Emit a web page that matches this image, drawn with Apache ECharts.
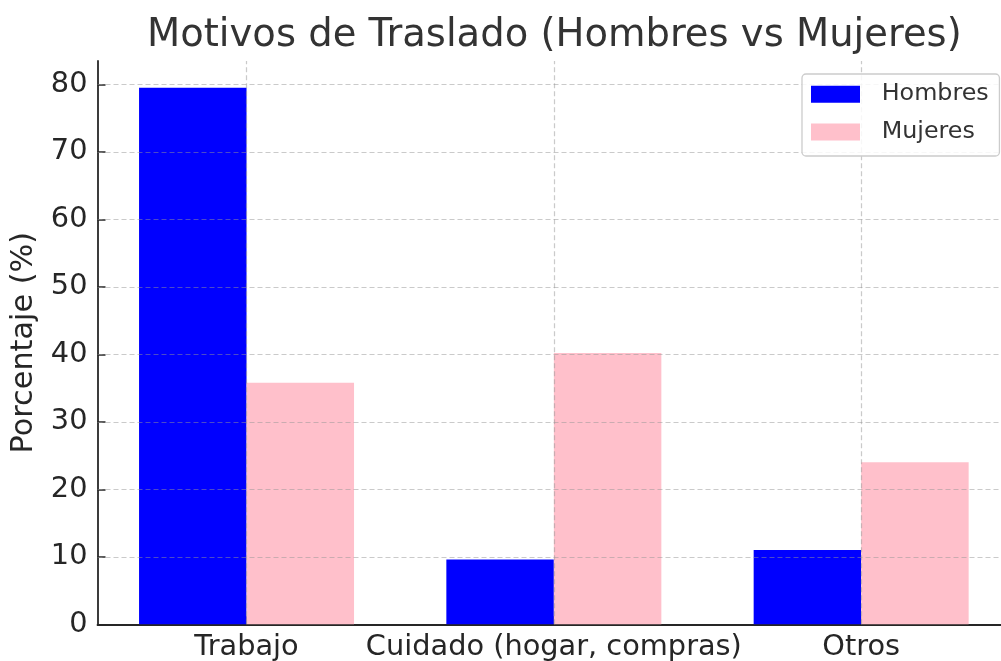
<!DOCTYPE html>
<html>
<head>
<meta charset="utf-8">
<script src="https://cdn.jsdelivr.net/npm/echarts@6/dist/echarts.min.js"></script>
<style>
html,body{margin:0;padding:0;background:#fff;}
#chart{width:1001px;height:661px;}
</style>
</head>
<body>
<div id="chart"></div>
<script>
const categories = ['Trabajo', 'Cuidado (hogar, compras)', 'Otros'];
const hombres = [79.5, 9.6, 11.0];
const mujeres = [35.8, 40.2, 24.0];
const yTicks = [0, 10, 20, 30, 40, 50, 60, 70, 80];
const catIndex = [0, 1, 2];

const FONT = 'DejaVu Sans';
const gridLine = {color: 'rgba(150,150,150,0.5)', width: 1.2, type: [5, 3]};

const chart = echarts.init(document.getElementById('chart'), null, {renderer: 'canvas'});
chart.setOption({
  animation: false,
  backgroundColor: '#fff',
  title: {
    text: 'Motivos de Traslado (Hombres vs Mujeres)',
    left: 147, top: 17, padding: 0,
    textStyle: {fontFamily: FONT, fontSize: 38.5, fontWeight: 'normal', color: '#333', lineHeight: 38.5}
  },
  legend: {
    data: ['Hombres', 'Mujeres'],
    orient: 'vertical',
    left: 802, top: 74,
    padding: [8.3, 10.7, 12, 9],
    itemWidth: 49, itemHeight: 17, itemGap: 13.7,
    backgroundColor: 'rgba(255,255,255,0.85)',
    borderColor: '#cccccc', borderWidth: 1.3, borderRadius: 4,
    icon: 'rect',
    textStyle: {fontFamily: FONT, fontSize: 23.8, color: '#333', padding: [0, 0, 0, 16.7]},
    z: 10
  },
  grid: {left: 97.5, width: 912.7, top: 61, bottom: 36.7, containLabel: false, outerBoundsMode: 'none'},
  xAxis: {
    type: 'value',
    min: -0.485, max: 2.485,
    axisLine: {show: true, onZero: false, lineStyle: {color: '#262626', width: 1.8}},
    axisTick: {show: true, inside: true, length: 8, customValues: catIndex, lineStyle: {color: '#262626', width: 1.5}},
    axisLabel: {
      show: true, customValues: catIndex, margin: 9,
      formatter: v => categories[Math.round(v)] || '',
      fontFamily: FONT, fontSize: 28.8, color: '#262626', lineHeight: 28.8
    },
    splitLine: {show: false}
  },
  yAxis: {
    type: 'value',
    min: 0, max: 83.475,
    name: 'Porcentaje (%)',
    nameLocation: 'middle', nameRotate: 90, nameGap: 58,
    nameTextStyle: {fontFamily: FONT, fontSize: 30.3, color: '#262626', lineHeight: 30.3},
    axisLine: {show: true, onZero: false, lineStyle: {color: '#262626', width: 1.8}},
    axisTick: {show: true, inside: true, length: 8, customValues: yTicks, lineStyle: {color: '#262626', width: 1.5}},
    axisLabel: {show: true, customValues: yTicks, margin: 10, fontFamily: FONT, fontSize: 28.8, color: '#262626'},
    splitLine: {show: false}
  },
  series: [
    {
      name: 'Hombres', type: 'bar',
      data: hombres.map((v, i) => [catIndex[i], v]),
      barWidth: 107.5, barGap: '0%',
      itemStyle: {color: '#0000ff'}
    },
    {
      name: 'Mujeres', type: 'bar',
      data: mujeres.map((v, i) => [catIndex[i], v]),
      barWidth: 107.5, barGap: '0%',
      itemStyle: {color: '#ffc0cb'}
    },
    {
      name: 'grid', type: 'line', data: [], z: 5,
      markLine: {
        silent: true, symbol: ['none', 'none'], animation: false,
        label: {show: false},
        lineStyle: gridLine,
        emphasis: {disabled: true},
        data: yTicks.filter(v => v > 0).map(v => ({yAxis: v})).concat(catIndex.map(i => ({xAxis: i})))
      }
    }
  ]
});
</script>
</body>
</html>
